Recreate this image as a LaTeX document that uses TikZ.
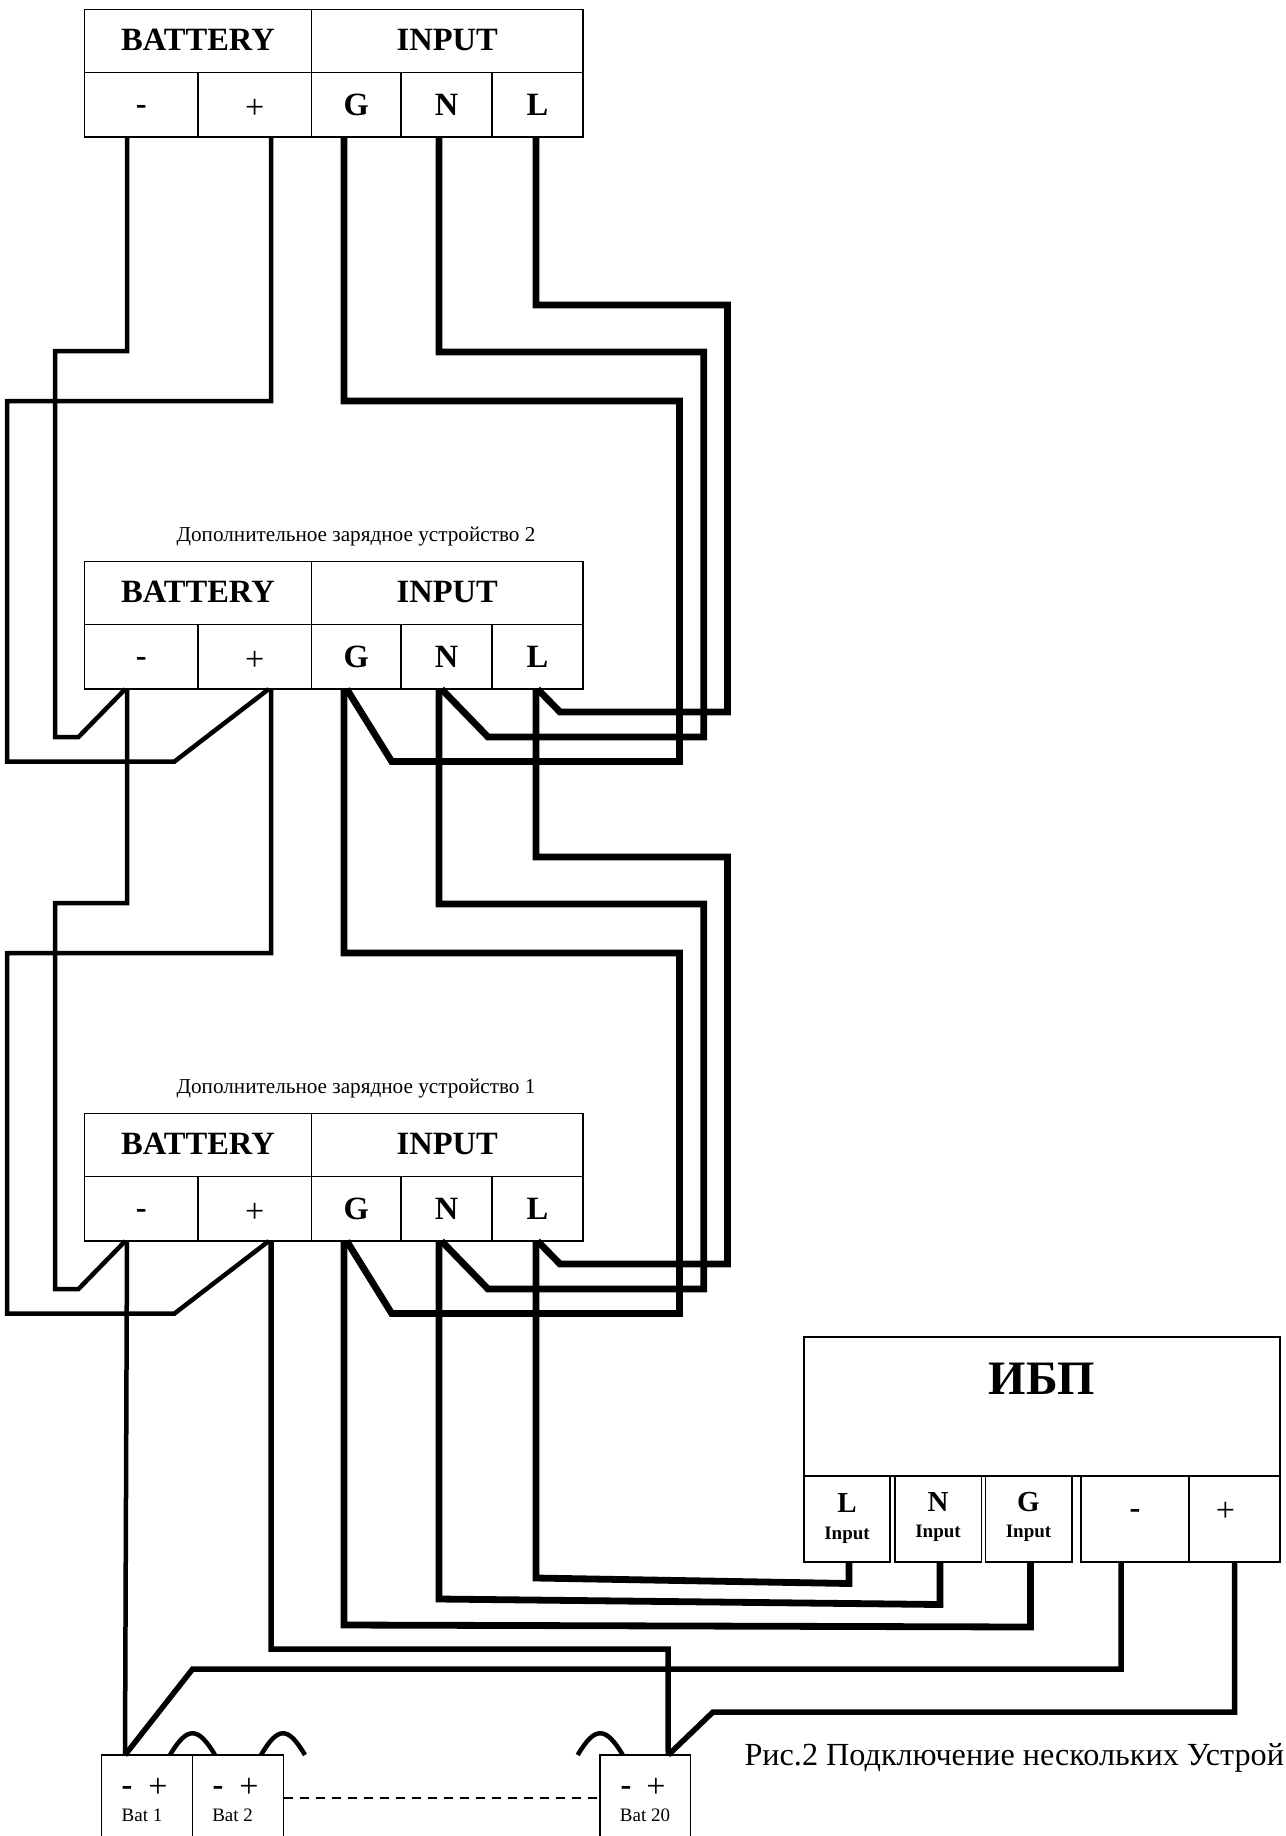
\documentclass[tikz,border=0pt]{standalone}
\usepackage{fontspec}
\setmainfont{Liberation Serif}
\tikzset{
	cellbox/.style={draw,line width=1.5,inner sep=0,outer sep=0,align=center},
	headfont/.style={font=\fontsize{32.5}{36}\selectfont\bfseries},
	signfont/.style={font=\fontsize{34}{38}\selectfont},
	capfont/.style={font=\fontsize{21.2}{24}\selectfont},
	batfont/.style={font=\fontsize{19}{22}\selectfont},
	inputfont/.style={font=\fontsize{19}{#1}\selectfont\bfseries},
	thinwire/.style={line width=4.5},
	midwire/.style={line width=5.5},
	thickwire/.style={line width=6.8},
	jumper/.style={line width=4.5}
}
\newcommand{\inputcell}[1]{{\fontsize{29}{30}\selectfont #1}\\Input}
\begin{document}
\begin{tikzpicture}[x=1pt,y=-1pt]
	\useasboundingbox (0,0) rectangle (1285,1836);

	% charger terminal boxes
	\foreach \i/\t in {1/0,2/552,3/1104}{
		\node[cellbox,headfont,minimum width=227,minimum height=63,text depth=2] (batt\i) at (198,41+\t) {BATTERY};
		\node[cellbox,headfont,minimum width=271.5,minimum height=63,text depth=2] (inp\i) at (447.25,41+\t) {INPUT};
		\node[cellbox,headfont,minimum width=113.5,minimum height=64.5,text height=19] (minus\i) at (141.25,104.8+\t) {-};
		\node[cellbox,signfont,minimum width=113.5,minimum height=64.5,text height=27] (plus\i) at (254.75,104.8+\t) {+};
		\node[cellbox,headfont,minimum width=89.5,minimum height=64.5] (gnd\i) at (356.25,104.8+\t) {G};
		\node[cellbox,headfont,minimum width=91,minimum height=64.5] (neu\i) at (446.5,104.8+\t) {N};
		\node[cellbox,headfont,minimum width=91,minimum height=64.5] (lin\i) at (537.5,104.8+\t) {L};
	}
	\node[capfont] (cap2) at (356,537) {Дополнительное зарядное устройство 2};
	\node[capfont] (cap1) at (356,1089) {Дополнительное зарядное устройство 1};

	% links between the boxes
	\foreach \a/\b/\d in {1/2/0,2/3/552}{
		\draw[thinwire] ([xshift=-14.25]minus\a.south) -- (127,351+\d) -- (55,351+\d) -- (55,737+\d) -- (78.5,737+\d) -- ([xshift=-16]minus\b.south);
		\draw[thinwire] ([xshift=16.25]plus\a.south) -- (271,401+\d) -- (7,401+\d) -- (7,761.5+\d) -- (174.5,761.5+\d) -- ([xshift=14]plus\b.south);
		\draw[thickwire] ([xshift=-12.25]gnd\a.south) -- (344,401+\d) -- (679.5,401+\d) -- (679.5,761.5+\d) -- (391.7,761.5+\d) -- ([xshift=-9.5]gnd\b.south);
		\draw[thickwire] ([xshift=-7.5]neu\a.south) -- (439,352+\d) -- (703.8,352+\d) -- (703.8,737+\d) -- (488,737+\d) -- ([xshift=-5]neu\b.south);
		\draw[thickwire] ([xshift=-1.5]lin\a.south) -- (536,305+\d) -- (727.5,305+\d) -- (727.5,712+\d) -- (560,712+\d) -- (lin\b.south);
	}

	% UPS
	\node[cellbox,minimum width=476,minimum height=139] (ups) at (1042,1406.5) {};
	\node[font=\fontsize{48}{52}\selectfont\bfseries] (upsname) at (1042,1379) {ИБП};
	\node[cellbox,inputfont=27,minimum width=86,minimum height=86] (upsl) at (847,1519) {\inputcell{L}};
	\node[cellbox,inputfont=26,minimum width=86.5,minimum height=86,text depth=8] (upsn) at (938,1519) {\inputcell{N}};
	\node[cellbox,inputfont=26,minimum width=86.5,minimum height=86,text depth=8] (upsg) at (1028.5,1519) {\inputcell{G}};
	\node[cellbox,headfont,minimum width=108.5,minimum height=86,text depth=9.5] (upsm) at (1135,1519) {-};
	\node[cellbox,signfont,minimum width=91,minimum height=86,text depth=14] (upsp) at (1234.5,1519) {+\hspace{18pt}};

	% batteries
	\node[cellbox,minimum width=91,minimum height=105] (bat1) at (147,1807.5) {};
	\node[cellbox,minimum width=91,minimum height=105] (bat2) at (238,1807.5) {};
	\node[cellbox,minimum width=90.5,minimum height=105] (bat20) at (645.25,1807.5) {};
	\foreach \b/\x/\mx/\px/\s in {bat1/142/127/158/Bat 1,bat2/232.6/218/249/Bat 2,bat20/645/626/656/Bat 20}{
		\node[headfont,text height=15] (\b m) at (\mx,1788) {-};
		\node[signfont] (\b p) at (\px,1788) {+};
		\node[batfont] (\b n) at (\x,1815) {\s};
	}
	\draw[line width=1.5,dash pattern=on 9pt off 7pt] (bat2.east |- 0,1798) -- (bat20.west |- 0,1798);

	% jumpers
	\coordinate (jfree1) at (305,1755);
	\coordinate (jfree2) at (577.7,1755);
	\draw[jumper] ([xshift=23]bat1.north) .. controls +(17,-29) and +(-17,-29) .. ([xshift=-23]bat2.north);
	\draw[jumper] ([xshift=23]bat2.north) .. controls +(17,-29) and +(-17,-29) .. (jfree1);
	\draw[jumper] (jfree2) .. controls +(17,-29) and +(-17,-29) .. ([xshift=-22.5]bat20.north);

	% wires to the UPS
	\draw[thickwire] ([xshift=-1.5]lin3.south) -- (536,1578) -- (849,1583.5) -- ([xshift=2]upsl.south);
	\draw[thickwire] ([xshift=-7.5]neu3.south) -- (439,1599) -- (940,1604.5) -- ([xshift=2]upsn.south);
	\draw[thickwire] ([xshift=-12.25]gnd3.south) -- (344,1625) -- (1030.5,1627) -- ([xshift=2]upsg.south);

	% wires to the batteries
	\draw[thinwire] ([xshift=-14.25]minus3.south) -- ([xshift=-22]bat1.north);
	\draw[midwire] ([xshift=16.25]plus3.south) -- (271,1649) -- (668,1649) -- ([xshift=23]bat20.north);
	\draw[midwire] (upsm.south -| 1121,0) -- (1121,1669) -- (192.6,1669) -- ([xshift=-22]bat1.north);
	\draw[midwire] (upsp.south -| 1234.5,0) -- (1234.5,1712) -- (713,1712) -- ([xshift=23]bat20.north);

	\node[anchor=base west,font=\fontsize{32.2}{36}\selectfont] (ris) at (741,1765) {Рис.2 Подключение нескольких Устрой};
\end{tikzpicture}
\end{document}
